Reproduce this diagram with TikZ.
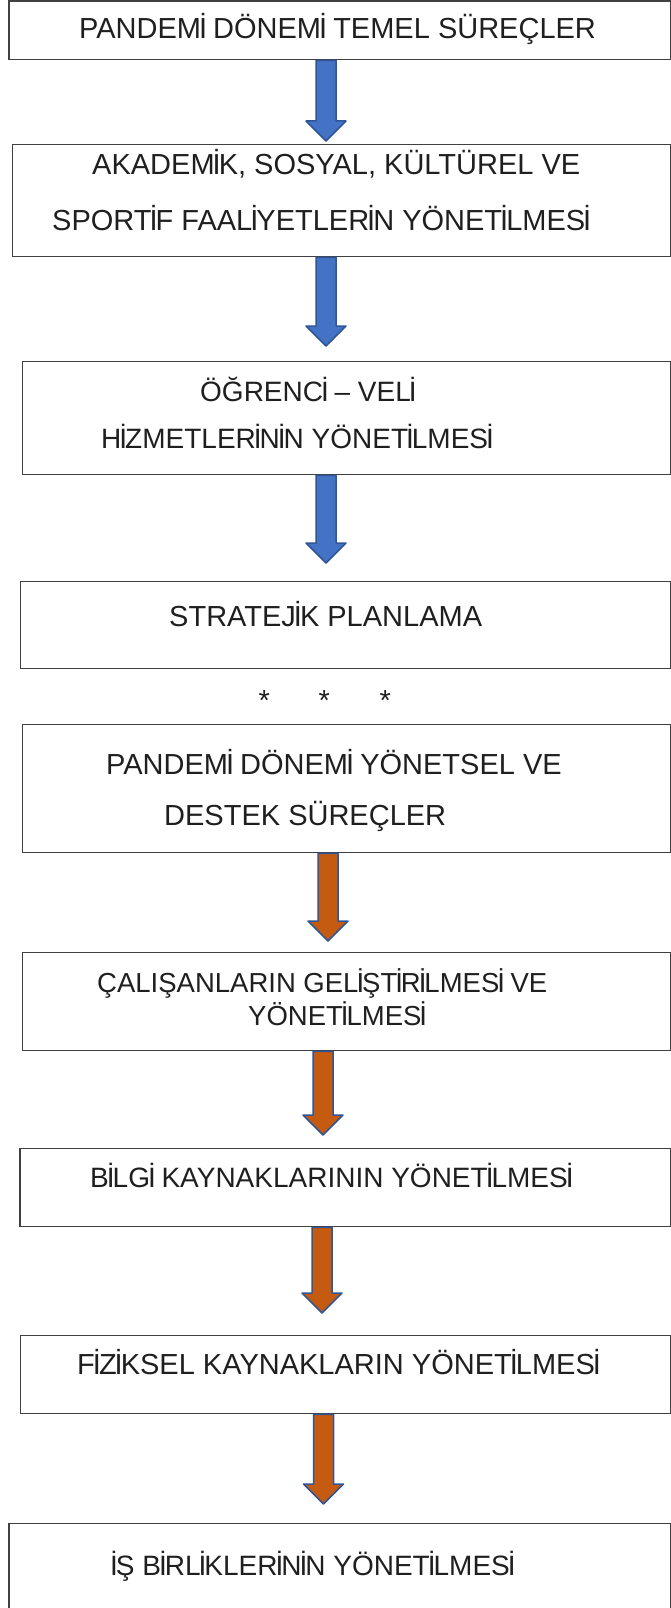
\documentclass[tikz,border=0pt]{standalone}
\usepackage{fontspec}
\setmainfont{Liberation Sans}
\usetikzlibrary{calc}
% the dotted capital I is set tight, as in the scan
\newXeTeXintercharclass\dotIclass
\XeTeXcharclass"0130=\dotIclass
\XeTeXinterchartoks 0 \dotIclass = {\kern-2pt\relax}
\XeTeXinterchartoks \dotIclass 0 = {\kern-2pt\relax}
\XeTeXinterchartoks \dotIclass 4095 = {\kern-2pt\relax}
\XeTeXinterchartokenstate=1
\definecolor{boxgray}{HTML}{404040}
\definecolor{arrowblue}{HTML}{4472C4}
\definecolor{arroworange}{HTML}{C55A11}
\definecolor{arrowedge}{HTML}{2F5597}
\tikzset{box/.style = {draw = boxgray, line width = 1.3pt, anchor = north west, inner sep = 0pt}}
\tikzset{boxtext/.style = {anchor = base west, inner sep = 0pt, font = \fontsize{29}{34}\selectfont, text = black!88}}
\tikzset{smalltext/.style = {boxtext, font = \fontsize{28}{33}\selectfont}}
\tikzset{blockarrow/.style = {draw = arrowedge, line width = 1.5pt, line join = round}}
\newcommand{\flowarrow}[5]{% x, from, to, gap, fill
  \coordinate (top) at (#1,0 |- #2.south);
  \coordinate (tip) at ($(#1,0 |- #3.north)+(0,-#4)$);
  \draw [blockarrow, fill = #5] ($(top)+(-10,0)$) -- ($(tip)+(-10,-20)$) -- ($(tip)+(-20,-20)$) -- (tip)
    -- ($(tip)+(20,-20)$) -- ($(tip)+(10,-20)$) -- ($(top)+(10,0)$) -- cycle;}

\begin{document}
\begin{tikzpicture}[x = 1pt, y = -1pt]
\useasboundingbox (0,0) rectangle (671,1608);
% boxes
\node [box, minimum width = 661.7pt, minimum height = 58.5pt] (b1) at (8.3,0.5) {};
\node [box, minimum width = 658.3pt, minimum height = 112pt] (b2) at (11.7,144) {};
\node [box, minimum width = 648pt, minimum height = 113pt] (b3) at (22,361) {};
\node [box, minimum width = 650pt, minimum height = 87pt] (b4) at (20,581) {};
\node [box, minimum width = 648.3pt, minimum height = 128pt] (b5) at (21.7,724) {};
\node [box, minimum width = 648.3pt, minimum height = 98pt] (b6) at (21.7,952) {};
\node [box, minimum width = 650.7pt, minimum height = 78pt] (b7) at (19.3,1148) {};
\node [box, minimum width = 650pt, minimum height = 78pt] (b8) at (20,1335) {};
\node [box, minimum width = 661.7pt, minimum height = 100pt] (b9) at (8.3,1523) {};
% texts
\node [boxtext] (t1) at (79,39) {PANDEMİ DÖNEMİ TEMEL SÜREÇLER};
\node [boxtext] (t2a) at (92,175) {AKADEMİK, SOSYAL, KÜLTÜREL VE};
\node [boxtext] (t2b) at (52,230) {SPORTİF FAALİYETLERİN YÖNETİLMESİ};
\node [smalltext] (t3a) at (200,401) {ÖĞRENCİ – VELİ};
\node [smalltext] (t3b) at (101,448) {HİZMETLERİNİN YÖNETİLMESİ};
\node [boxtext] (t4) at (169,626) {STRATEJİK PLANLAMA};
\node [boxtext] (s1) at (258.5,710) {*};
\node [boxtext] (s2) at (318.5,710) {*};
\node [boxtext] (s3) at (379.5,710) {*};
\node [boxtext] (t5a) at (106,774) {PANDEMİ DÖNEMİ YÖNETSEL VE};
\node [boxtext] (t5b) at (164,825) {DESTEK SÜREÇLER};
\node [smalltext, font = \fontsize{27.5}{33}\selectfont] (t6a) at (97,992) {ÇALIŞANLARIN GELİŞTİRİLMESİ VE};
\node [smalltext, font = \fontsize{27.5}{33}\selectfont] (t6b) at (248,1025) {YÖNETİLMESİ};
\node [smalltext] (t7) at (90,1187) {BİLGİ KAYNAKLARININ YÖNETİLMESİ};
\node [boxtext] (t8) at (77,1374) {FİZİKSEL KAYNAKLARIN YÖNETİLMESİ};
\node [smalltext] (t9) at (110,1575) {İŞ BİRLİKLERİNİN YÖNETİLMESİ};
% arrows
\flowarrow{326}{b1}{b2}{3}{arrowblue}
\flowarrow{326}{b2}{b3}{15}{arrowblue}
\flowarrow{326}{b3}{b4}{18}{arrowblue}
\flowarrow{328}{b5}{b6}{11}{arroworange}
\flowarrow{323}{b6}{b7}{13}{arroworange}
\flowarrow{322}{b7}{b8}{22}{arroworange}
\flowarrow{323.5}{b8}{b9}{19}{arroworange}
\end{tikzpicture}
\end{document}
